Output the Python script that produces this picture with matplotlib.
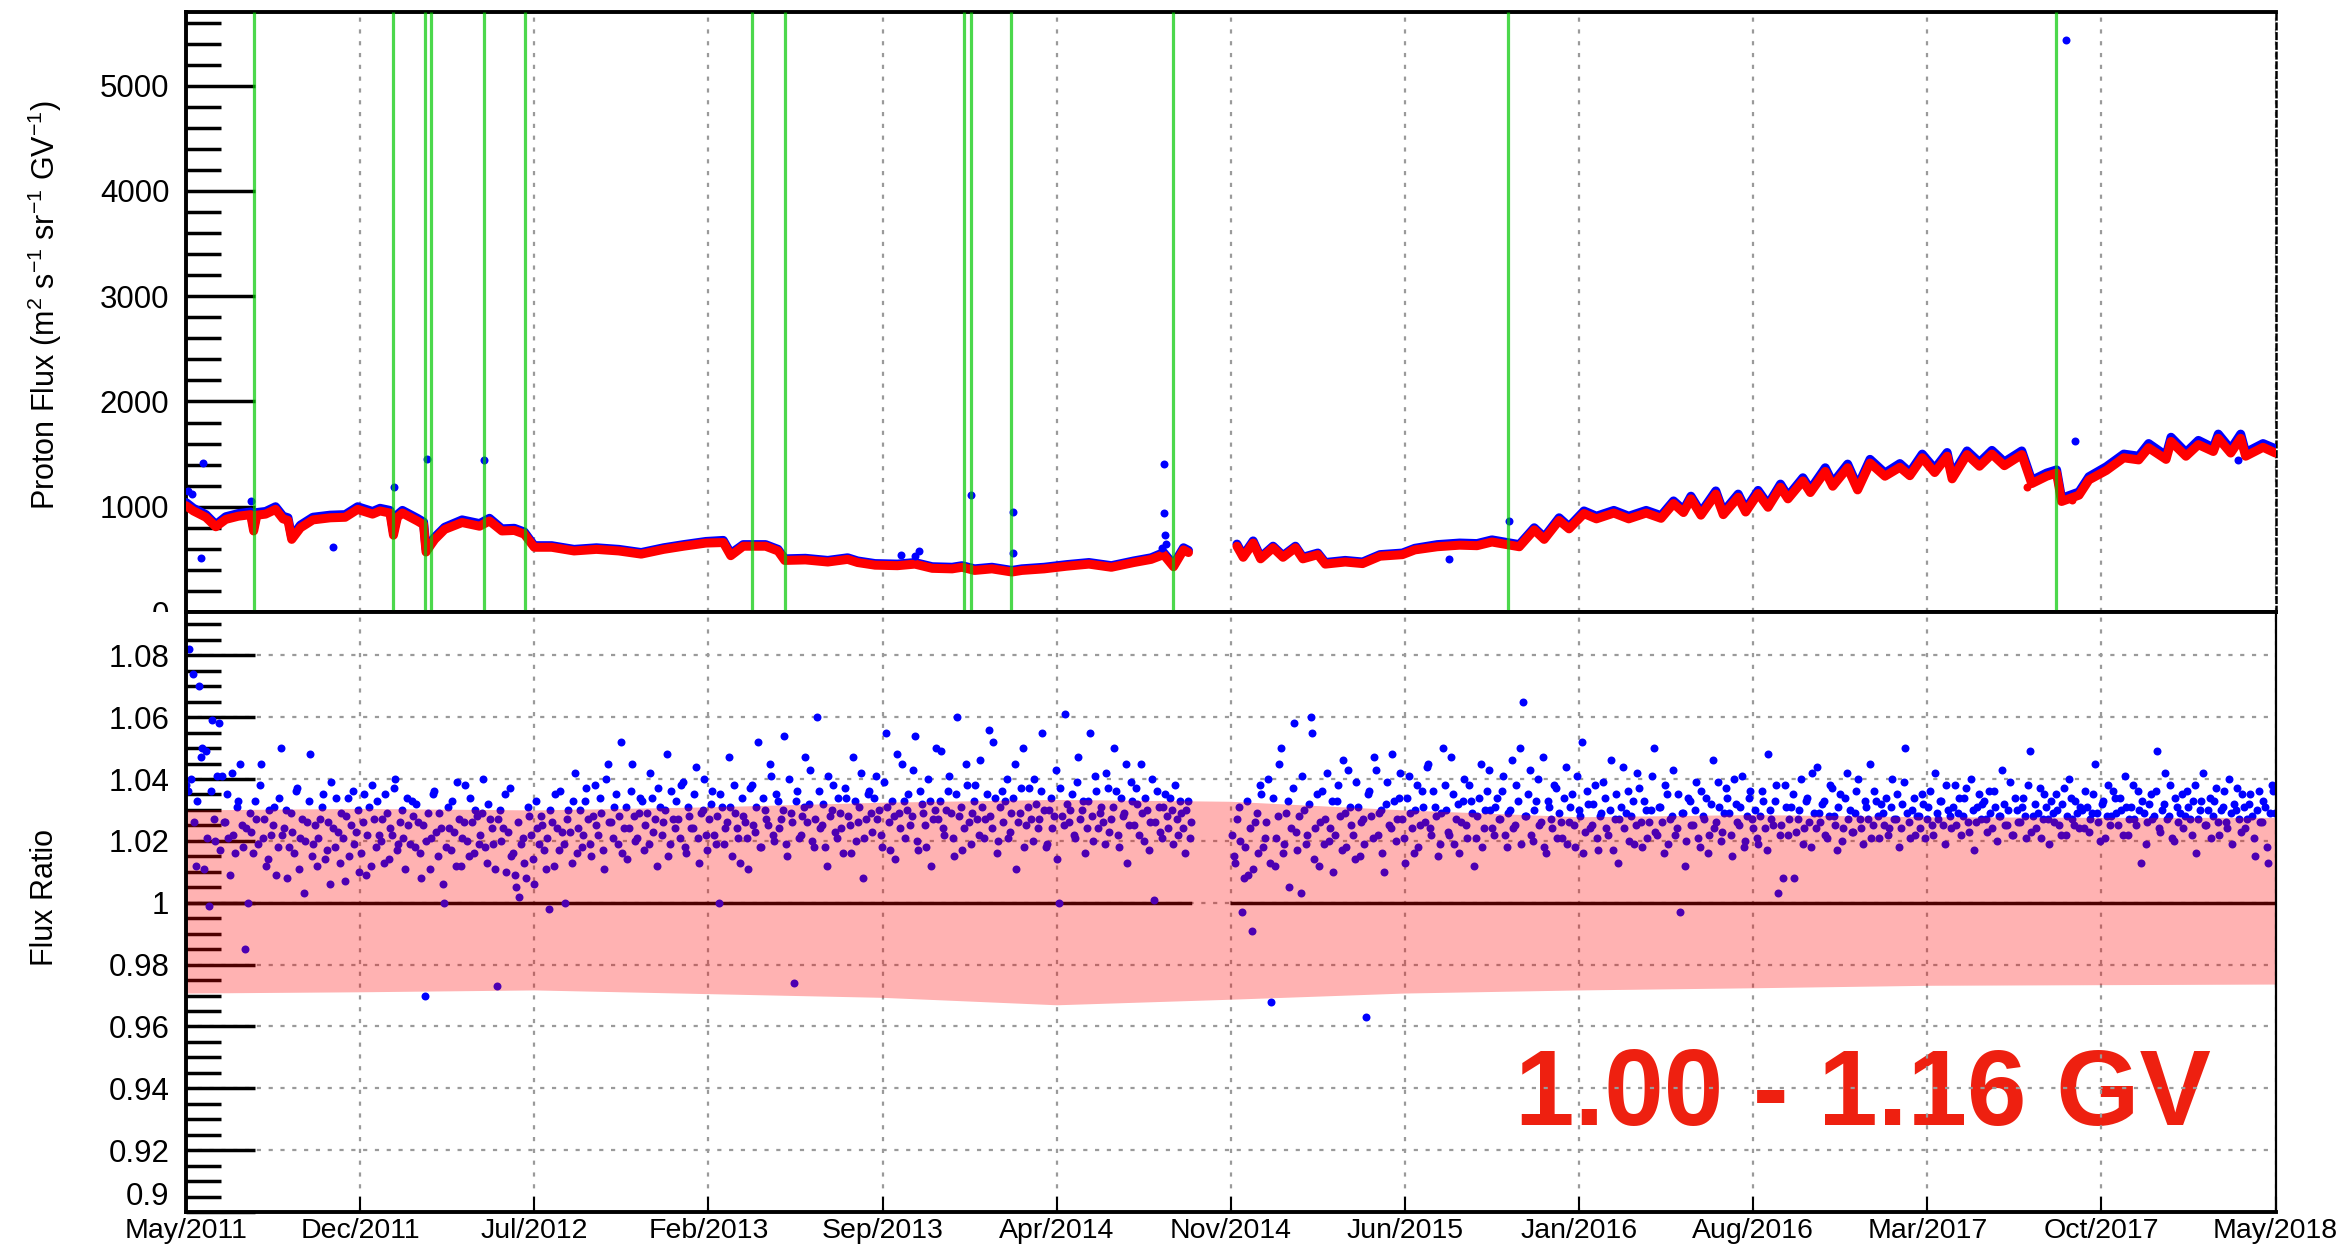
import numpy as np
import matplotlib
matplotlib.use("Agg")
import matplotlib.pyplot as plt
from matplotlib.transforms import Bbox, TransformedBbox

plt.rcParams["font.family"] = "Liberation Sans"
plt.rcParams["mathtext.fontset"] = "custom"
plt.rcParams["mathtext.rm"] = "Liberation Sans"
plt.rcParams["mathtext.it"] = "Liberation Sans:italic"
plt.rcParams["lines.scale_dashes"] = False

nan = np.nan
T0 = 2011.37          # left edge of the time axis (May 2011), decimal years
SPAN = 7.0            # years shown

tick_labels = ["May/2011", "Dec/2011", "Jul/2012", "Feb/2013", "Sep/2013", "Apr/2014",
               "Nov/2014", "Jun/2015", "Jan/2016", "Aug/2016", "Mar/2017", "Oct/2017",
               "May/2018"]

# proton flux 1.00-1.16 GV, months after T0 (nan marks the data gap)
flux_month = [0.0, 0.3, 0.8, 1.2, 1.6, 2.1, 2.6, 2.72, 2.85, 3.2,
              3.6, 3.9, 4.1, 4.25, 4.6, 5.1, 5.8, 6.4, 6.9, 7.5,
              7.8, 8.2, 8.34, 8.5, 8.7, 9.3, 9.55, 9.65, 9.85, 10.0,
              10.4, 11.1, 11.8, 12.2, 12.7, 13.2, 13.6, 14.0, 14.7, 15.6,
              16.5, 17.4, 18.3, 19.2, 20.0, 20.9, 21.6, 21.9, 22.4, 23.3,
              23.8, 24.07, 24.9, 25.8, 26.6, 27.0, 27.7, 28.6, 29.3, 30.0,
              30.8, 31.2, 31.7, 32.4, 33.2, 33.6, 34.5, 35.4, 36.3, 37.2,
              38.1, 38.8, 39.3, 39.7, 40.1, 40.3, 41.2,
              42.25, 42.5, 42.9, 43.2, 43.7, 44.1, 44.6, 44.9, 45.5, 45.8,
              46.6, 47.3, 48.0, 48.9, 49.4, 50.3, 51.2, 51.9, 52.5, 53.0,
              53.6, 54.2, 54.6, 55.2, 55.6, 56.2, 56.7, 57.4, 58.0, 58.7,
              59.3, 59.8, 60.2, 60.5, 60.9, 61.5, 61.8, 62.4, 62.7, 63.2,
              63.6, 64.1, 64.4, 65.0, 65.3, 65.9, 66.2, 66.8, 67.2, 67.7,
              68.3, 68.9, 69.3, 69.8, 70.3, 70.8, 71.0, 71.6, 72.1, 72.6,
              73.1, 73.8, 74.2, 74.8, 75.2, 75.4, 76.1, 76.5, 77.2, 77.9,
              78.5, 78.9, 79.6, 79.8, 80.4, 80.9, 81.5, 81.7, 82.2, 82.6,
              82.8, 83.5, 84.0]
flux_red = [1010, 960, 900, 810, 880, 910, 925, 770, 920, 930,
            975, 885, 870, 690, 800, 875, 895, 900, 975, 930,
            960, 940, 730, 900, 940, 865, 830, 570, 640, 690,
            785, 850, 815, 865, 770, 775, 740, 615, 615, 580,
            595, 580, 550, 595, 625, 655, 660, 535, 625, 625,
            580, 490, 495, 475, 500, 470, 445, 440, 455, 415,
            410, 425, 395, 410, 380, 395, 410, 435, 455, 425,
            470, 500, 545, 430, 590, 565, nan,
            625, 520, 655, 505, 610, 520, 610, 505, 545, 455,
            475, 460, 530, 545, 590, 620, 635, 630, 665, 645,
            620, 780, 690, 870, 790, 935, 885, 940, 885, 940,
            890, 1030, 945, 1075, 920, 1120, 925, 1090, 950, 1125,
            995, 1185, 1075, 1245, 1135, 1335, 1195, 1370, 1160, 1415,
            1290, 1375, 1295, 1465, 1325, 1480, 1265, 1495, 1385, 1500,
            1390, 1495, 1220, 1290, 1320, 1050, 1110, 1255, 1345, 1465,
            1445, 1560, 1450, 1620, 1480, 1590, 1525, 1650, 1510, 1650,
            1480, 1565, 1510]
flux_blue = [1040, 985, 925, 830, 905, 935, 950, 800, 945, 955,
             1000, 910, 895, 710, 825, 900, 920, 925, 1000, 955,
             985, 965, 760, 925, 965, 890, 855, 600, 660, 710,
             805, 875, 840, 890, 790, 795, 760, 630, 630, 595,
             610, 595, 565, 610, 640, 670, 680, 555, 640, 640,
             595, 505, 510, 490, 515, 485, 460, 455, 470, 430,
             425, 440, 410, 425, 395, 410, 425, 450, 470, 440,
             485, 515, 565, 450, 610, 585, nan,
             645, 535, 675, 520, 625, 535, 625, 520, 560, 470,
             490, 475, 545, 560, 605, 640, 655, 650, 685, 665,
             640, 800, 710, 895, 810, 960, 910, 965, 910, 965,
             915, 1055, 970, 1100, 945, 1150, 950, 1120, 975, 1155,
             1020, 1215, 1100, 1275, 1165, 1370, 1225, 1405, 1190, 1450,
             1320, 1410, 1325, 1500, 1360, 1515, 1295, 1530, 1420, 1535,
             1425, 1530, 1250, 1320, 1350, 1080, 1140, 1285, 1380, 1500,
             1480, 1600, 1485, 1660, 1515, 1630, 1560, 1690, 1545, 1690,
             1515, 1600, 1550]

# isolated flux points away from the main band
blue_out_month = [0.1, 0.25, 0.59, 0.67, 2.60, 5.89, 8.36, 9.70, 11.99, 28.74,
                  29.29, 29.45, 31.57, 33.23, 33.25, 39.24, 39.30, 39.33, 39.37, 39.40,
                  50.77, 53.20, 75.56, 75.92, 82.49]
blue_out_val = [1150, 1120, 513, 1415, 1050, 620, 1190, 1449, 1440, 540,
                535, 580, 1107, 947, 558, 611, 1404, 940, 733, 643,
                508, 868, 5430, 1620, 1448]
red_out_month = [74.0, 75.82]
red_out_val = [1185, 1066]

# solar energetic particle events, months after T0
event_month = [2.72, 8.34, 9.62, 9.83, 11.96, 13.64, 22.76, 24.07,
               31.27, 31.56, 33.17, 39.69, 53.16, 75.17]

# flux ratio: ratio_a every 4 days from T0, ratio_b every 4 days from T0 + 2 days
RATIO_STEP = 4
ratio_a = [
    1.038, 1.082, 1.074, 1.012, 1.070, 1.050, 1.049, 0.999, 1.059, 1.020,
    1.058, 1.041, 1.026, 1.021, 1.042, 1.016, 1.033, 1.025, 0.985, 1.000,
    1.023, 1.033, 1.019, 1.045, 1.027, 1.014, 1.022, 1.031, 1.018, 1.050,
    1.024, 1.008, 1.029, 1.016, 1.037, 1.021, 1.003, 1.026, 1.048, 1.019,
    1.012, 1.027, 1.035, 1.017, 1.006, 1.024, 1.034, 1.013, 1.021, 1.028,
    1.015, 1.036, 1.023, 1.010, 1.026, 1.009, 1.031, 1.038, 1.018, 1.022,
    1.027, 1.035, 1.014, 1.022, 1.040, 1.019, 1.030, 1.011, 1.025, 1.033,
    1.018, 1.026, 1.008, 0.970, 1.029, 1.021, 1.036, 1.015, 1.024, 1.000,
    1.031, 1.017, 1.023, 1.039, 1.012, 1.026, 1.020, 1.034, 1.016, 1.028,
    1.022, 1.040, 1.013, 1.027, 1.019, 0.973, 1.030, 1.024, 1.010, 1.037,
    1.016, 1.005, 1.002, 1.021, 1.008, 1.028, 1.014, 1.033, 1.019, 1.025,
    1.011, 0.998, 1.026, 1.035, 1.017, 1.023, 1.000, 1.030, 1.013, 1.042,
    1.024, 1.018, 1.033, 1.027, 1.015, 1.038, 1.022, 1.029, 1.011, 1.045,
    1.026, 1.031, 1.019, 1.052, 1.024, 1.014, 1.036, 1.028, 1.021, 1.034,
    1.017, 1.029, 1.042, 1.023, 1.012, 1.031, 1.026, 1.048, 1.019, 1.027,
    1.033, 1.021, 1.039, 1.016, 1.028, 1.024, 1.044, 1.013, 1.030, 1.022,
    1.027, 1.036, 1.019, 1.000, 1.031, 1.024, 1.047, 1.015, 1.029, 1.021,
    1.034, 1.026, 1.011, 1.038, 1.023, 1.052, 1.018, 1.030, 1.025, 1.041,
    1.020, 1.033, 1.027, 1.054, 1.015, 1.029, 0.974, 1.036, 1.022, 1.031,
    1.026, 1.043, 1.018, 1.060, 1.024, 1.032, 1.012, 1.028, 1.038, 1.021,
    1.029, 1.016, 1.034, 1.025, 1.047, 1.020, 1.031, 1.008, 1.027, 1.036,
    1.023, 1.041, 1.030, 1.018, 1.055, 1.026, 1.033, 1.014, 1.029, 1.045,
    1.021, 1.035, 1.028, 1.054, 1.017, 1.032, 1.025, 1.040, 1.012, 1.030,
    1.027, 1.049, 1.022, 1.036, 1.029, 1.015, 1.060, 1.031, 1.024, 1.038,
    1.019, 1.033, 1.027, 1.046, 1.021, 1.035, 1.028, 1.052, 1.016, 1.031,
    1.026, 1.040, 1.023, 1.034, 1.011, 1.029, 1.050, 1.025, 1.037, 1.020,
    1.032, 1.027, 1.055, 1.018, 1.030, 1.024, 1.043, 1.000, 1.028, 1.061,
    1.026, 1.035, 1.021, 1.047, 1.030, 1.016, 1.033, 1.028, 1.041, 1.024,
    1.031, 1.019, 1.037, 1.027, 1.050, 1.022, 1.034, 1.029, 1.013, 1.039,
    1.025, 1.032, 1.045, 1.020, 1.030, 1.026, 1.001, 1.036, 1.023, 1.031,
    1.028, 1.034, 1.019, 1.027, 1.033, 1.024, 1.030, 1.021, nan, nan,
    nan, nan, nan, nan, nan, nan, nan, nan, nan, nan,
    1.022, 1.013, 1.031, 0.997, 1.018, 1.009, 0.991, 1.026, 1.016, 1.035,
    1.021, 1.040, 0.968, 1.012, 1.028, 1.050, 1.019, 1.033, 1.024, 1.058,
    1.017, 1.003, 1.030, 1.022, 1.060, 1.014, 1.035, 1.026, 1.019, 1.042,
    1.024, 1.010, 1.033, 1.028, 1.046, 1.018, 1.031, 1.022, 1.039, 1.015,
    1.027, 0.963, 1.036, 1.021, 1.043, 1.029, 1.016, 1.032, 1.025, 1.048,
    1.020, 1.034, 1.027, 1.013, 1.041, 1.024, 1.030, 1.018, 1.036, 1.026,
    1.045, 1.022, 1.031, 1.015, 1.029, 1.038, 1.023, 1.047, 1.019, 1.032,
    1.026, 1.040, 1.021, 1.033, 1.012, 1.028, 1.045, 1.024, 1.036, 1.030,
    1.022, 1.034, 1.027, 1.041, 1.018, 1.030, 1.024, 1.038, 1.050, 1.065,
    1.028, 1.043, 1.020, 1.033, 1.025, 1.047, 1.016, 1.031, 1.024, 1.037,
    1.029, 1.021, 1.044, 1.026, 1.035, 1.018, 1.030, 1.052, 1.023, 1.032,
    1.025, 1.038, 1.017, 1.029, 1.034, 1.022, 1.046, 1.027, 1.013, 1.031,
    1.024, 1.036, 1.028, 1.019, 1.042, 1.026, 1.033, 1.021, 1.030, 1.050,
    1.022, 1.031, 1.016, 1.035, 1.027, 1.043, 1.024, 0.997, 1.029, 1.020,
    1.033, 1.025, 1.039, 1.018, 1.028, 1.034, 1.022, 1.046, 1.026, 1.031,
    1.023, 1.037, 1.029, 1.015, 1.032, 1.025, 1.041, 1.020, 1.034, 1.027,
    1.030, 1.019, 1.036, 1.024, 1.048, 1.027, 1.033, 1.003, 1.025, 1.038,
    1.022, 1.031, 1.008, 1.027, 1.040, 1.024, 1.034, 1.018, 1.029, 1.044,
    1.026, 1.033, 1.021, 1.038, 1.028, 1.017, 1.035, 1.024, 1.042, 1.030,
    1.023, 1.036, 1.027, 1.019, 1.031, 1.045, 1.025, 1.033, 1.021, 1.029,
    1.034, 1.024, 1.040, 1.027, 1.018, 1.032, 1.050, 1.026, 1.030, 1.022,
    1.028, 1.035, 1.021, 1.031, 1.025, 1.042, 1.027, 1.033, 1.019, 1.030,
    1.024, 1.038, 1.029, 1.022, 1.034, 1.026, 1.040, 1.017, 1.031, 1.027,
    1.033, 1.023, 1.029, 1.036, 1.020, 1.028, 1.032, 1.025, 1.039, 1.022,
    1.030, 1.026, 1.034, 1.021, 1.049, 1.028, 1.024, 1.037, 1.027, 1.031,
    1.019, 1.029, 1.035, 1.025, 1.032, 1.022, 1.040, 1.027, 1.033, 1.024,
    1.030, 1.036, 1.023, 1.029, 1.045, 1.026, 1.032, 1.021, 1.038, 1.028,
    1.034, 1.025, 1.030, 1.041, 1.022, 1.031, 1.027, 1.036, 1.013, 1.029,
    1.026, 1.035, 1.028, 1.049, 1.023, 1.032, 1.027, 1.038, 1.020, 1.031,
    1.029, 1.024, 1.036, 1.027, 1.033, 1.016, 1.030, 1.042, 1.025, 1.034,
    1.028, 1.037, 1.022, 1.031, 1.026, 1.040, 1.019, 1.030, 1.027, 1.035,
    1.024, 1.032, 1.028, 1.015, 1.036, 1.026, 1.031, 1.013, 1.038, 1.029,
]
ratio_b = [
    1.036, 1.040, 1.026, 1.033, 1.047, 1.011, 1.021, 1.036, 1.027, 1.041,
    1.017, 1.026, 1.035, 1.009, 1.022, 1.031, 1.045, 1.018, 1.024, 1.029,
    1.016, 1.027, 1.038, 1.021, 1.012, 1.030, 1.025, 1.009, 1.034, 1.022,
    1.030, 1.018, 1.023, 1.036, 1.011, 1.027, 1.020, 1.033, 1.015, 1.025,
    1.021, 1.031, 1.014, 1.026, 1.039, 1.018, 1.023, 1.029, 1.007, 1.034,
    1.025, 1.019, 1.030, 1.016, 1.035, 1.022, 1.012, 1.027, 1.033, 1.020,
    1.013, 1.029, 1.024, 1.037, 1.017, 1.026, 1.021, 1.034, 1.019, 1.028,
    1.032, 1.016, 1.025, 1.020, 1.011, 1.035, 1.023, 1.029, 1.006, 1.018,
    1.024, 1.033, 1.012, 1.027, 1.021, 1.038, 1.015, 1.026, 1.030, 1.019,
    1.029, 1.018, 1.032, 1.024, 1.011, 1.027, 1.020, 1.035, 1.023, 1.015,
    1.009, 1.026, 1.019, 1.013, 1.031, 1.022, 1.006, 1.024, 1.028, 1.017,
    1.021, 1.030, 1.012, 1.024, 1.036, 1.019, 1.027, 1.023, 1.033, 1.016,
    1.030, 1.022, 1.037, 1.019, 1.028, 1.025, 1.034, 1.017, 1.040, 1.026,
    1.021, 1.035, 1.028, 1.016, 1.031, 1.024, 1.045, 1.020, 1.029, 1.033,
    1.025, 1.019, 1.034, 1.027, 1.037, 1.022, 1.030, 1.015, 1.036, 1.024,
    1.027, 1.038, 1.018, 1.031, 1.024, 1.035, 1.021, 1.029, 1.040, 1.017,
    1.032, 1.022, 1.028, 1.035, 1.019, 1.026, 1.031, 1.038, 1.024, 1.013,
    1.028, 1.021, 1.037, 1.025, 1.031, 1.018, 1.034, 1.027, 1.045, 1.022,
    1.035, 1.024, 1.030, 1.019, 1.040, 1.026, 1.033, 1.021, 1.028, 1.047,
    1.032, 1.020, 1.027, 1.036, 1.025, 1.018, 1.041, 1.030, 1.023, 1.034,
    1.024, 1.037, 1.028, 1.016, 1.033, 1.026, 1.042, 1.021, 1.035, 1.029,
    1.034, 1.027, 1.022, 1.039, 1.031, 1.017, 1.028, 1.048, 1.024, 1.033,
    1.030, 1.025, 1.043, 1.020, 1.036, 1.029, 1.018, 1.033, 1.027, 1.050,
    1.033, 1.024, 1.030, 1.041, 1.021, 1.035, 1.028, 1.017, 1.045, 1.026,
    1.029, 1.038, 1.022, 1.031, 1.027, 1.056, 1.024, 1.034, 1.020, 1.036,
    1.033, 1.021, 1.029, 1.045, 1.026, 1.037, 1.018, 1.031, 1.027, 1.040,
    1.024, 1.036, 1.030, 1.019, 1.034, 1.028, 1.014, 1.037, 1.025, 1.032,
    1.030, 1.022, 1.039, 1.027, 1.033, 1.024, 1.055, 1.020, 1.036, 1.029,
    1.026, 1.042, 1.023, 1.031, 1.036, 1.018, 1.028, 1.045, 1.025, 1.033,
    1.037, 1.022, 1.029, 1.034, 1.017, 1.040, 1.026, 1.031, 1.021, 1.035,
    1.024, 1.030, 1.038, 1.022, 1.029, 1.016, 1.033, 1.026, nan, nan,
    nan, nan, nan, nan, nan, nan, nan, nan, nan, nan,
    1.015, 1.027, 1.020, 1.008, 1.033, 1.024, 1.011, 1.029, 1.038, 1.018,
    1.026, 1.013, 1.034, 1.021, 1.045, 1.016, 1.029, 1.005, 1.037, 1.023,
    1.028, 1.041, 1.019, 1.032, 1.055, 1.024, 1.012, 1.036, 1.027, 1.020,
    1.033, 1.022, 1.038, 1.017, 1.029, 1.043, 1.025, 1.014, 1.031, 1.026,
    1.019, 1.035, 1.028, 1.047, 1.022, 1.030, 1.010, 1.039, 1.024, 1.033,
    1.027, 1.042, 1.021, 1.034, 1.029, 1.016, 1.038, 1.025, 1.031, 1.044,
    1.024, 1.036, 1.028, 1.019, 1.050, 1.030, 1.022, 1.035, 1.027, 1.016,
    1.033, 1.025, 1.038, 1.029, 1.021, 1.034, 1.018, 1.030, 1.043, 1.024,
    1.031, 1.027, 1.036, 1.022, 1.029, 1.046, 1.025, 1.033, 1.019, 1.028,
    1.035, 1.022, 1.030, 1.040, 1.026, 1.018, 1.033, 1.027, 1.038, 1.021,
    1.026, 1.034, 1.019, 1.031, 1.025, 1.041, 1.028, 1.016, 1.036, 1.024,
    1.032, 1.021, 1.028, 1.039, 1.024, 1.030, 1.017, 1.035, 1.027, 1.044,
    1.029, 1.020, 1.033, 1.025, 1.037, 1.018, 1.030, 1.026, 1.041, 1.023,
    1.031, 1.026, 1.038, 1.019, 1.028, 1.022, 1.035, 1.029, 1.012, 1.034,
    1.025, 1.030, 1.021, 1.036, 1.027, 1.016, 1.032, 1.024, 1.039, 1.020,
    1.029, 1.034, 1.022, 1.040, 1.026, 1.031, 1.018, 1.028, 1.036, 1.024,
    1.021, 1.028, 1.033, 1.017, 1.030, 1.025, 1.038, 1.022, 1.008, 1.031,
    1.027, 1.035, 1.023, 1.030, 1.019, 1.033, 1.026, 1.042, 1.024, 1.029,
    1.032, 1.022, 1.028, 1.037, 1.025, 1.031, 1.020, 1.034, 1.027, 1.023,
    1.029, 1.040, 1.024, 1.033, 1.027, 1.021, 1.036, 1.028, 1.032, 1.025,
    1.022, 1.031, 1.027, 1.035, 1.024, 1.039, 1.029, 1.021, 1.034, 1.028,
    1.024, 1.032, 1.027, 1.036, 1.022, 1.029, 1.033, 1.025, 1.038, 1.028,
    1.031, 1.025, 1.034, 1.028, 1.037, 1.023, 1.030, 1.026, 1.035, 1.032,
    1.027, 1.036, 1.024, 1.031, 1.028, 1.043, 1.025, 1.030, 1.022, 1.034,
    1.026, 1.031, 1.028, 1.038, 1.023, 1.032, 1.029, 1.021, 1.035, 1.027,
    1.033, 1.026, 1.030, 1.022, 1.037, 1.028, 1.034, 1.025, 1.029, 1.031,
    1.024, 1.031, 1.027, 1.035, 1.029, 1.020, 1.033, 1.028, 1.025, 1.036,
    1.029, 1.034, 1.022, 1.031, 1.027, 1.038, 1.025, 1.030, 1.033, 1.019,
    1.032, 1.027, 1.036, 1.024, 1.030, 1.042, 1.028, 1.021, 1.034, 1.026,
    1.035, 1.028, 1.031, 1.022, 1.038, 1.027, 1.033, 1.025, 1.030, 1.021,
    1.033, 1.026, 1.030, 1.036, 1.024, 1.029, 1.032, 1.037, 1.023, 1.031,
    1.027, 1.035, 1.021, 1.030, 1.026, 1.033, 1.018, 1.029, 1.036,
]

# systematic uncertainty band, months after T0
band_month = [0, 7, 14, 21, 28, 35, 42, 49, 56, 63, 70, 77, 84]
band_hi = [1.0300, 1.0305, 1.0300, 1.0310, 1.0325, 1.0334, 1.0328,
           1.0300, 1.0278, 1.0285, 1.0278, 1.0276, 1.0276]
band_lo = [0.9708, 0.9712, 0.9718, 0.9706, 0.9694, 0.9670, 0.9688,
           0.9708, 0.9718, 0.9725, 0.9733, 0.9735, 0.9737]


def months(m):
    return T0 + np.asarray(m, dtype=float) / 12.0


W, H = 2351, 1259
fig = plt.figure(figsize=(W / 100, H / 100), dpi=100)
left, right = 186 / W, 2275.5 / W
y_top, y_mid, y_bot = 1 - 12 / H, 1 - 612 / H, 1 - 1212 / H
ax1 = fig.add_axes([left, y_mid, right - left, y_top - y_mid])
ax2 = fig.add_axes([left, y_bot, right - left, y_mid - y_bot])

xt = np.linspace(T0, T0 + SPAN, len(tick_labels))
grid_kw = dict(color="#9a9a9a", lw=1.6, ls=(0, (3, 5.5)))

# ---- top: flux ----
ax1.set_axisbelow(True)
ax1.plot(months(flux_month), flux_blue, color="#0000ff", lw=6.5,
         solid_joinstyle="round", solid_capstyle="round", zorder=3)
ax1.plot(months(flux_month), flux_red, color="#ff0000", lw=6.5,
         solid_joinstyle="round", solid_capstyle="round", zorder=4)
ax1.scatter(months(blue_out_month), blue_out_val, s=33, color="#0000ff", lw=0, zorder=5)
ax1.scatter(months(red_out_month), red_out_val, s=33, color="#ff0000", lw=0, zorder=5)
ax1.vlines(months(event_month), 0, 5700, color="#00c800", alpha=0.7, lw=2.3, zorder=6)

ax1.set_xlim(T0, T0 + SPAN)
ax1.set_ylim(0, 5700)
ax1.set_xticks(xt)
ax1.set_xticklabels([])
ax1.tick_params(axis="x", length=0)
ax1.set_yticks(np.arange(0, 5001, 1000))
ax1.set_yticks(np.arange(0, 5700, 200), minor=True)
ax1.tick_params(axis="y", which="major", direction="in", length=50, width=2.5,
                labelsize=22.5, pad=12)
ax1.tick_params(axis="y", which="minor", direction="in", length=25, width=2.5)
ax1.xaxis.grid(True, **grid_kw)
for side in ["left", "top", "bottom"]:
    ax1.spines[side].set_linewidth(2.8)
ax1.spines["right"].set_linewidth(1.8)
ax1.spines["right"].set_linestyle((0, (4, 3)))

# the "0" label sits on the pad edge and is cut there
clip = TransformedBbox(Bbox([[0, y_mid], [1, 1]]), fig.transFigure)
for tick in ax1.yaxis.get_major_ticks():
    tick.label1.set_clip_box(clip)
    tick.label1.set_clip_on(True)

# ---- bottom: ratio ----
ratio_a = np.array(ratio_a)
ratio_b = np.array(ratio_b)
x_a = T0 + np.arange(len(ratio_a)) * RATIO_STEP / 365.25
x_b = T0 + (np.arange(len(ratio_b)) * RATIO_STEP + 2) / 365.25
unity = np.where(np.isnan(ratio_a), np.nan, 1.0)

ax2.text(0.636, 0.145, "1.00 - 1.16 GV", transform=ax2.transAxes, color="#ee2010",
         fontsize=77, fontweight="bold", ha="left", va="baseline", zorder=1)
ax2.plot(x_a, unity, color="black", lw=2.5, zorder=2.6)
ax2.scatter(x_a, ratio_a, s=33, color="#0000ff", lw=0, zorder=2.7)
ax2.scatter(x_b, ratio_b, s=33, color="#0000ff", lw=0, zorder=2.7)
ax2.fill_between(months(band_month), band_lo, band_hi, color="#ff0000", alpha=0.3,
                 lw=0, zorder=3)

ax2.set_xlim(T0, T0 + SPAN)
ax2.set_ylim(0.9, 1.094)
ax2.set_xticks(xt)
ax2.set_xticklabels(tick_labels)
ax2.tick_params(axis="x", direction="in", length=11, width=1.5, labelsize=20.5, pad=4)
ax2.set_yticks(np.round(np.arange(0.9, 1.081, 0.02), 2))
ax2.set_yticklabels(["0.9", "0.92", "0.94", "0.96", "0.98", "1", "1.02", "1.04",
                     "1.06", "1.08"])
ax2.set_yticks(np.arange(0.9, 1.094, 0.005), minor=True)
ax2.tick_params(axis="y", which="major", direction="in", length=50, width=2.5,
                labelsize=22.5, pad=12)
ax2.tick_params(axis="y", which="minor", direction="in", length=25, width=2.5)
ax2.get_yticklabels()[0].set_verticalalignment("bottom")
ax2.grid(True, **grid_kw)
for side in ["left", "top", "bottom"]:
    ax2.spines[side].set_linewidth(2.8)
ax2.spines["right"].set_linewidth(1.6)
for sp in ax2.spines.values():
    sp.set_zorder(4)

fig.text(45 / W, 1 - 305 / H,
         r"Proton Flux (m$^{2}$ s$^{-1}$ sr$^{-1}$ GV$^{-1}$)",
         rotation=90, ha="center", va="center", fontsize=22)
fig.text(45 / W, 1 - 897 / H, "Flux Ratio", rotation=90, ha="center", va="center",
         fontsize=22)

fig.savefig("out.png", dpi=100)
